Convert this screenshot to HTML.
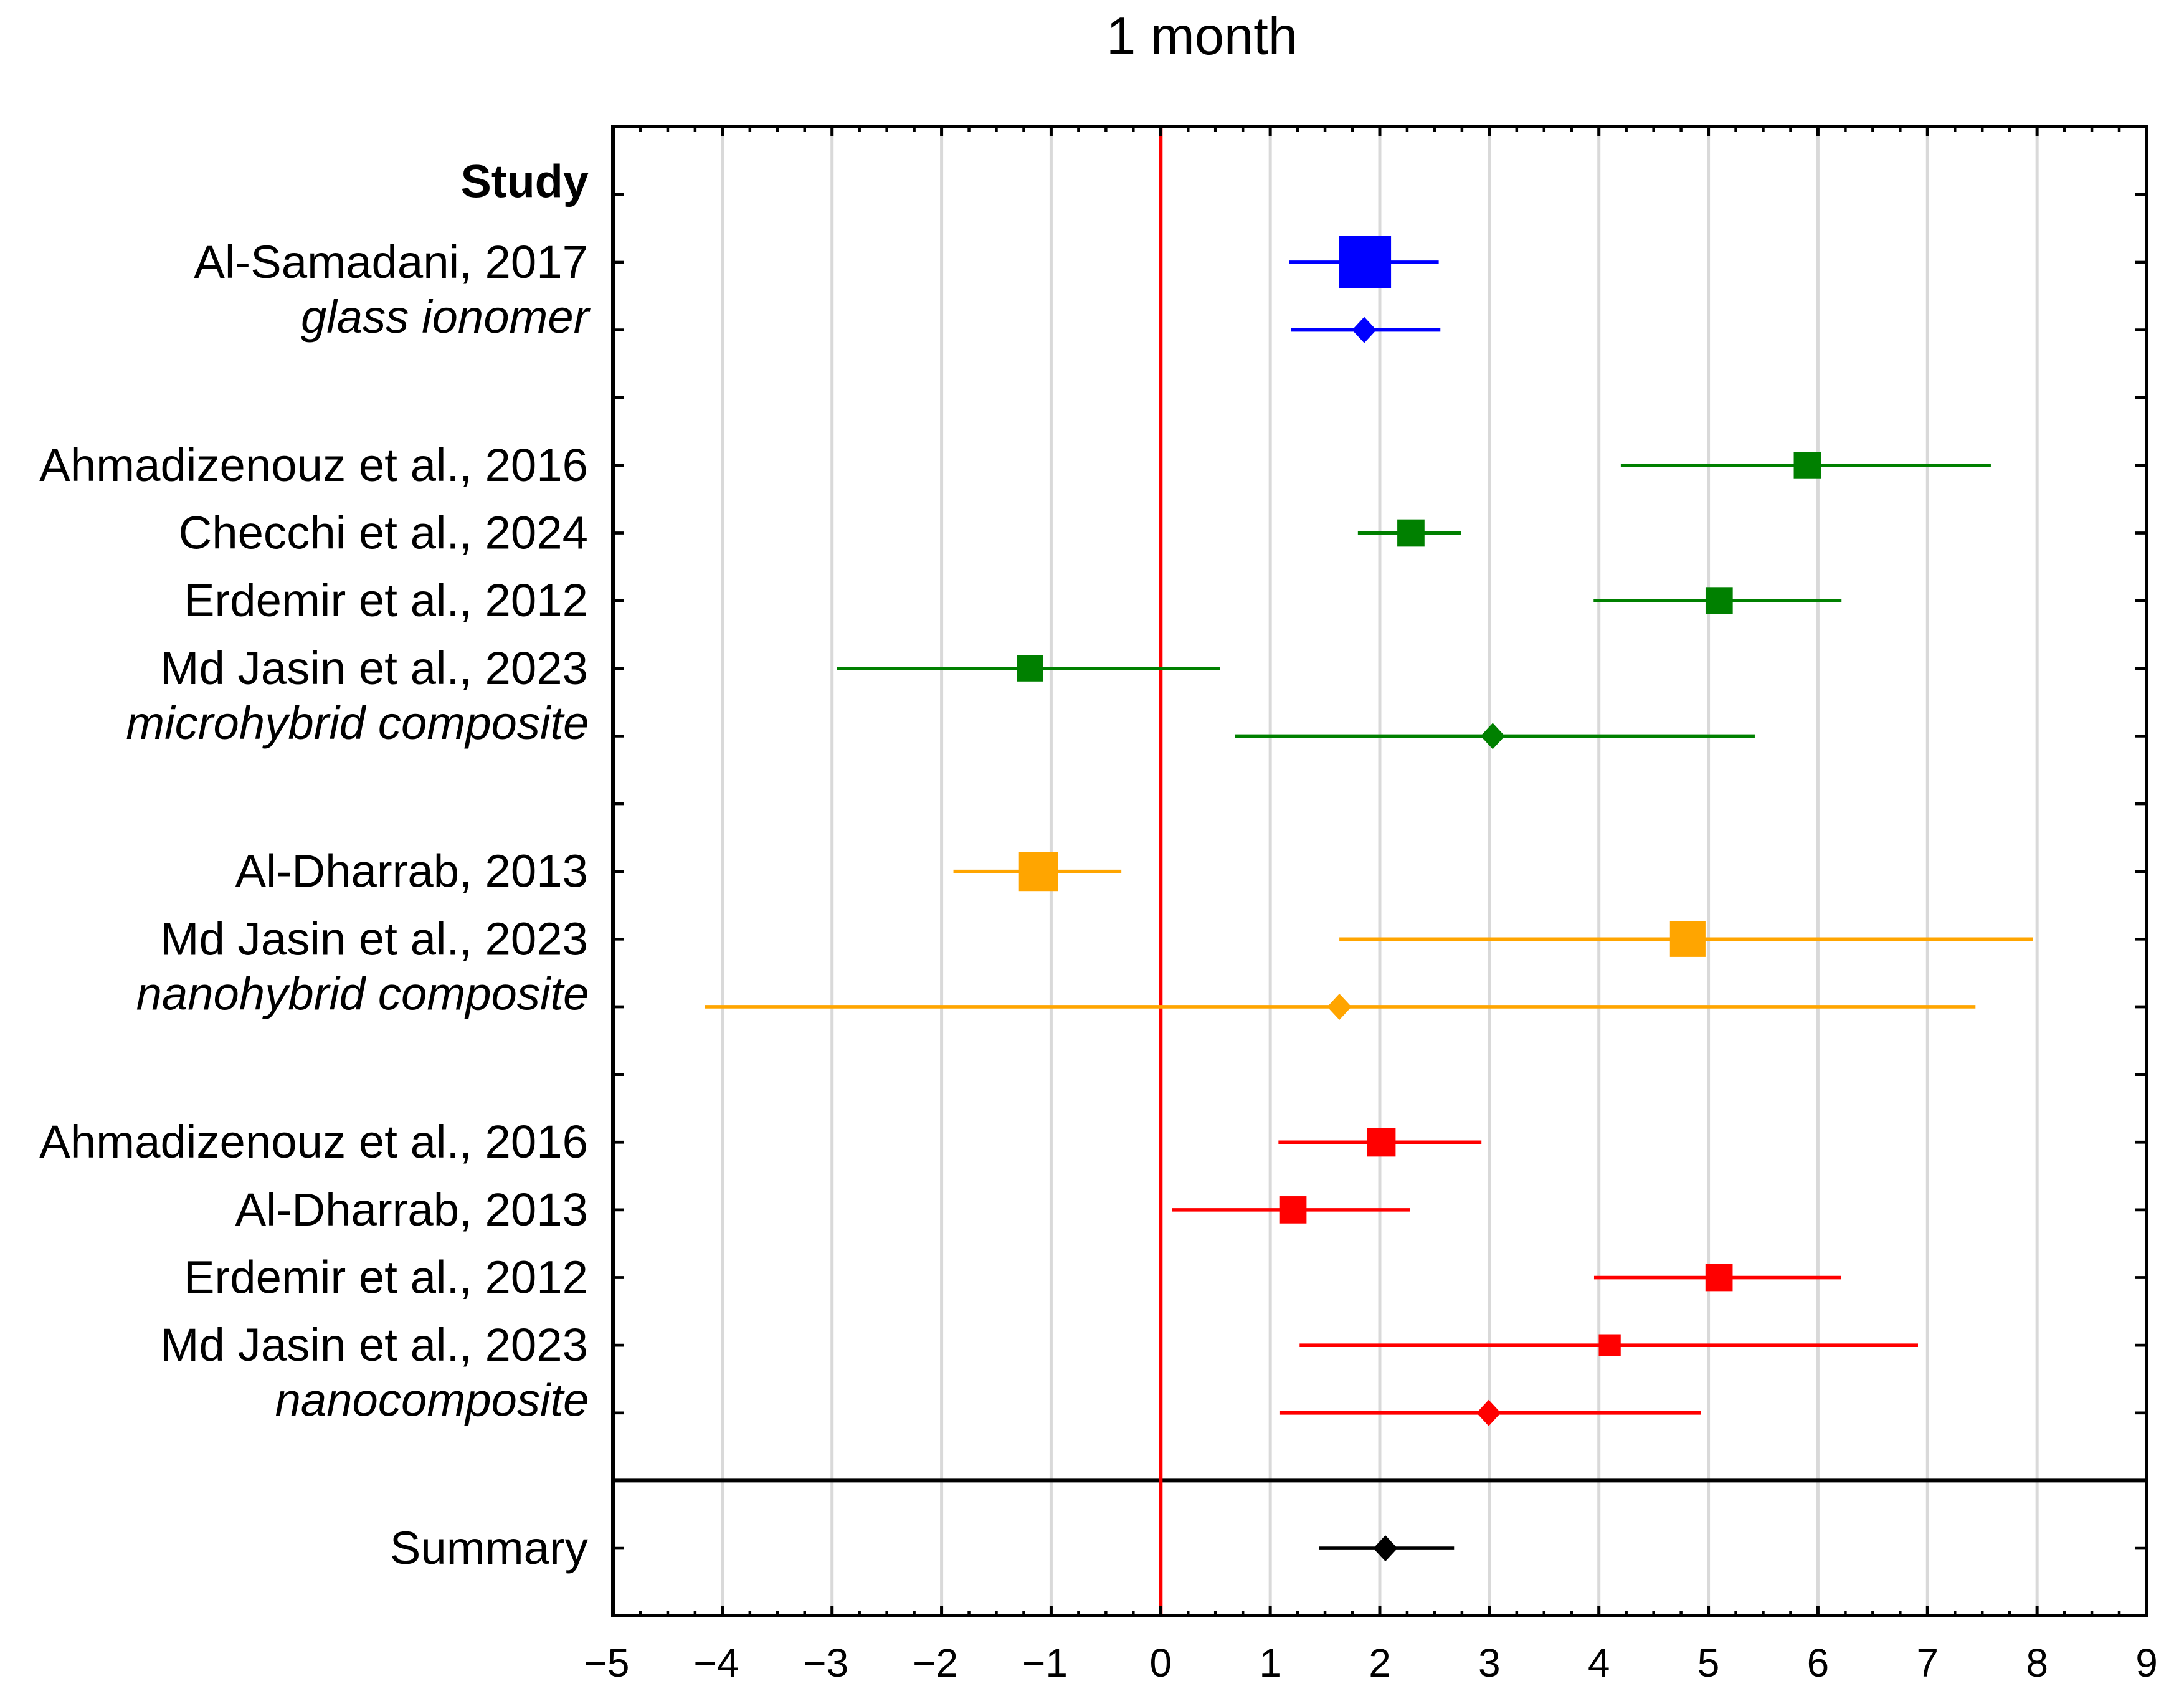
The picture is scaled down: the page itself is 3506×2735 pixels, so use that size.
<!DOCTYPE html>
<html lang="en">
<head>
<meta charset="utf-8">
<title>1 month forest plot</title>
<style>
  html, body { margin: 0; padding: 0; background: #ffffff; }
  svg { display: block; }
  text { font-family: "Liberation Sans", sans-serif; fill: #000000; }
</style>
</head>
<body>
<svg id="chart" xmlns="http://www.w3.org/2000/svg" width="3506" height="2735" viewBox="0 0 3506 2735">
  <rect x="0" y="0" width="3506" height="2735" fill="#ffffff"/>
  <text x="1776" y="87" font-size="85">1 month</text>
</svg>
<script>
// ---- Data ----
const categories = [
  'Study', 'Al-Samadani, 2017', 'glass ionomer', '',
  'Ahmadizenouz et al., 2016', 'Checchi et al., 2024', 'Erdemir et al., 2012', 'Md Jasin et al., 2023', 'microhybrid composite', '',
  'Al-Dharrab, 2013', 'Md Jasin et al., 2023', 'nanohybrid composite', '',
  'Ahmadizenouz et al., 2016', 'Al-Dharrab, 2013', 'Erdemir et al., 2012', 'Md Jasin et al., 2023', 'nanocomposite', '',
  'Summary'
];
const rowKinds = [
  'header', 'study', 'pooled', 'gap',
  'study', 'study', 'study', 'study', 'pooled', 'gap',
  'study', 'study', 'pooled', 'gap',
  'study', 'study', 'study', 'study', 'pooled', 'gap',
  'summary'
];
const rowGroups = [
  '', 'glass', 'glass', '',
  'micro', 'micro', 'micro', 'micro', 'micro', '',
  'nanohybrid', 'nanohybrid', 'nanohybrid', '',
  'nano', 'nano', 'nano', 'nano', 'nano', '',
  'all'
];
const means = [
  null, 1.864, 1.858, null,
  5.903, 2.284, 5.098, -1.192, 3.031, null,
  -1.115, 4.811, 1.631, null,
  2.013, 1.207, 5.097, 4.099, 2.994, null,
  2.051
];
const lowers = [
  null, 1.174, 1.188, null,
  4.200, 1.800, 3.952, -2.953, 0.677, null,
  -1.892, 1.631, -4.159, null,
  1.075, 0.104, 3.956, 1.268, 1.084, null,
  1.447
];
const uppers = [
  null, 2.538, 2.553, null,
  7.578, 2.741, 6.215, 0.540, 5.423, null,
  -0.359, 7.964, 7.438, null,
  2.928, 2.273, 6.213, 6.913, 4.932, null,
  2.678
];
const weights = [
  null, 10.0, null, null,
  5.2, 5.2, 5.2, 5.0, null, null,
  7.5, 6.8, null, null,
  5.5, 5.2, 5.2, 4.2, null, null,
  null
];
const xTickValues = [-5, -4, -3, -2, -1, 0, 1, 2, 3, 4, 5, 6, 7, 8, 9];
const xTickLabels = ['\u22125', '\u22124', '\u22123', '\u22122', '\u22121', '0', '1', '2', '3', '4', '5', '6', '7', '8', '9'];
const groupColors = { glass: '#0000ff', micro: '#008000', nanohybrid: '#ffa500', nano: '#ff0000', all: '#000000' };

// ---- Layout and axis functions ----
const plotLeft = 984, plotRight = 3446, plotTop = 203, plotBottom = 2593;
const xMin = -5, xMax = 9, rowSlots = 22;
const xScale = v => plotLeft + (v - xMin) * (plotRight - plotLeft) / (xMax - xMin);
const yScale = i => plotTop + 0.7 + (i + 1) * (plotBottom - plotTop) / rowSlots;
const markerSide = w => w * 8.4;

const svg = document.getElementById('chart');
const NS = 'http://www.w3.org/2000/svg';

function addLine(x1, y1, x2, y2, color, width) {
  const l = document.createElementNS(NS, 'line');
  l.setAttribute('x1', x1);
  l.setAttribute('y1', y1);
  l.setAttribute('x2', x2);
  l.setAttribute('y2', y2);
  l.setAttribute('stroke', color);
  l.setAttribute('stroke-width', width);
  svg.appendChild(l);
  return l;
}

// Vertical gridlines
xTickValues.forEach(v => {
  if (v === xMin || v === xMax || v === 0) return;
  const el = addLine(xScale(v), plotTop, xScale(v), plotBottom, '#d9d9d9', 5);
  
  
});

// Divider above summary row
const divider = addLine(plotLeft, yScale(19), plotRight, yScale(19), '#000000', 6);



// Zero reference line
const zeroLine = addLine(xScale(0), plotTop, xScale(0), plotBottom, '#ff0000', 6);



// Frame
const frame = document.createElementNS(NS, 'rect');
frame.setAttribute('x', plotLeft);
frame.setAttribute('y', plotTop);
frame.setAttribute('width', plotRight - plotLeft);
frame.setAttribute('height', plotBottom - plotTop);
frame.setAttribute('fill', 'none');
frame.setAttribute('stroke', '#000000');
frame.setAttribute('stroke-width', 6);


svg.appendChild(frame);

// X ticks: major and three minors per unit, top and bottom
xTickValues.forEach(v => {
  const px = xScale(v);
  [[plotTop, plotTop + 16], [plotBottom, plotBottom - 16]].forEach(pair => {
    const major = addLine(px, pair[0], px, pair[1], '#000000', 5);
    
    
  });
  if (v < xMax) {
    [0.25, 0.5, 0.75].forEach(f => {
      const mx = xScale(v + f);
      [[plotTop, plotTop + 9], [plotBottom, plotBottom - 8]].forEach(pair => {
        const minor = addLine(mx, pair[0], mx, pair[1], '#000000', 4.5);
        
        
      });
    });
  }
});

// X tick labels
xTickLabels.forEach((lab, i) => {
  const t = document.createElementNS(NS, 'text');
  t.setAttribute('x', xScale(xTickValues[i]) + (xTickValues[i] < 0 ? -10 : 0));
  t.setAttribute('y', 2691);
  t.setAttribute('font-size', 64);
  t.setAttribute('text-anchor', 'middle');
  
  
  t.textContent = lab;
  svg.appendChild(t);
});

// Rows: y ticks, labels, confidence intervals, markers
categories.forEach((name, i) => {
  const py = yScale(i);
  const kind = rowKinds[i];

  const tickL = addLine(plotLeft, py, plotLeft + 18, py, '#000000', 4.7);
  
  
  const tickR = addLine(plotRight - 18, py, plotRight, py, '#000000', 4.7);
  
  

  if (name) {
    const t = document.createElementNS(NS, 'text');
    t.setAttribute('text-anchor', 'end');
    if (kind === 'header') {
      t.setAttribute('x', 945);
      t.setAttribute('font-size', 74);
      t.setAttribute('y', py + 4);
      t.setAttribute('font-weight', 'bold');
    } else if (kind === 'pooled') {
      t.setAttribute('x', 945.5);
      t.setAttribute('font-size', 74.3);
      t.setAttribute('y', py + 4.5);
      t.setAttribute('font-style', 'italic');
    } else {
      t.setAttribute('x', 944);
      t.setAttribute('font-size', 74.4);
      t.setAttribute('y', py + 25);
    }
    
    
    t.textContent = name;
    svg.appendChild(t);
  }

  if (means[i] === null) return;
  const color = groupColors[rowGroups[i]];
  const ci = addLine(xScale(lowers[i]), py, xScale(uppers[i]), py, color, 5.6);
  
  

  const cx = xScale(means[i]);
  if (kind === 'study') {
    const side = markerSide(weights[i]);
    const sq = document.createElementNS(NS, 'rect');
    sq.setAttribute('x', cx - side / 2);
    sq.setAttribute('y', py - side / 2);
    sq.setAttribute('width', side);
    sq.setAttribute('height', side);
    sq.setAttribute('fill', color);
    
    
    svg.appendChild(sq);
  } else {
    const hw = 19.5, hh = 21;
    const d = document.createElementNS(NS, 'polygon');
    d.setAttribute('points', (cx - hw) + ',' + py + ' ' + cx + ',' + (py - hh) + ' ' + (cx + hw) + ',' + py + ' ' + cx + ',' + (py + hh));
    d.setAttribute('fill', color);
    
    
    svg.appendChild(d);
  }
});
</script>
</body>
</html>
